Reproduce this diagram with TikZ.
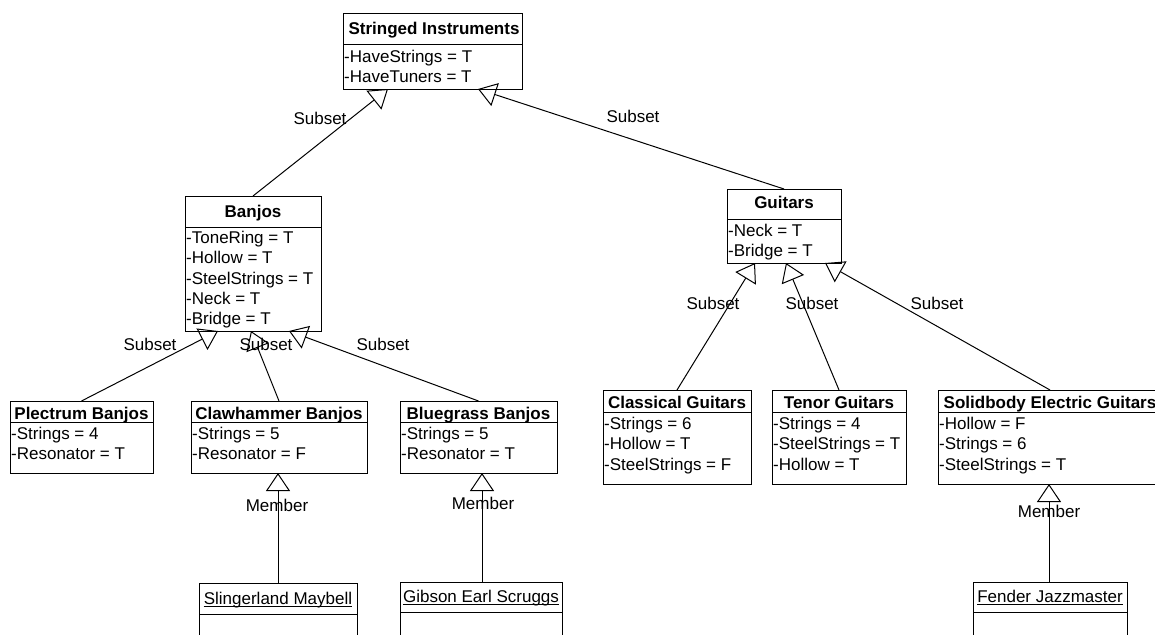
\documentclass[tikz,border=0pt]{standalone}
\usepackage{fontspec}
\setmainfont{Liberation Sans}
\usetikzlibrary{arrows.meta}
% name, left, top, right, bottom, divider
\newcommand{\umlbox}[6]{%
  \node[box, minimum width={#4-#2}, minimum height={#5-#3}] (#1) at ({(#2+#4)/2},{(#3+#5)/2}) {};
  \draw[line width=1pt] (#1.west |- 0,#6) -- (#1.east |- 0,#6);
}
\begin{document}
\begin{tikzpicture}[x=1pt,y=-1pt,
  box/.style={draw, line width=1pt, inner sep=0pt, outer sep=0pt},
  ttl/.style={font=\fontsize{17}{20.3}\selectfont\bfseries, inner sep=0pt, anchor=base},
  attr/.style={font=\fontsize{17}{20.3}\selectfont, inner sep=0pt, anchor=north west, align=left},
  lbl/.style={font=\fontsize{17}{20.3}\selectfont, inner sep=0pt},
  inst/.style={font=\fontsize{17}{20.3}\selectfont, inner sep=0pt, anchor=base},
  gen/.style={draw, line width=1pt, -{Triangle[open, length=18pt, width=24pt]}},
]
\useasboundingbox (0,0) rectangle (1155,634);
\fill[white] (0,0) rectangle (1155,634);

% ---- boxes ----
\umlbox{si}{343}{14}{522}{89}{45}
\node[ttl] (si-t) at (434,35) {Stringed Instruments};
\node[attr] (si-a) at (344,50) {-HaveStrings = T\\-HaveTuners = T};

\umlbox{banjos}{185}{196}{321}{331}{227}
\node[ttl] (banjos-t) at (253,217) {Banjos};
\node[attr] (banjos-a) at (186,231) {-ToneRing = T\\-Hollow = T\\-SteelStrings = T\\-Neck = T\\-Bridge = T};

\umlbox{guitars}{727}{189}{841}{263}{219}
\node[ttl] (guitars-t) at (784,208) {Guitars};
\node[attr] (guitars-a) at (728,224) {-Neck = T\\-Bridge = T};

\umlbox{plectrum}{10}{401}{153}{473}{422}
\node[ttl] (plectrum-t) at (81.5,419) {Plectrum Banjos};
\node[attr] (plectrum-a) at (11,427) {-Strings = 4\\-Resonator = T};

\umlbox{claw}{191}{401}{367}{473}{422}
\node[ttl] (claw-t) at (279,419) {Clawhammer Banjos};
\node[attr] (claw-a) at (192,427) {-Strings = 5\\-Resonator = F};

\umlbox{blue}{400}{401}{557}{473}{422}
\node[ttl] (blue-t) at (478.5,419) {Bluegrass Banjos};
\node[attr] (blue-a) at (401,427) {-Strings = 5\\-Resonator = T};

\umlbox{classical}{603}{390}{751}{484}{412}
\node[ttl] (classical-t) at (677,408) {Classical Guitars};
\node[attr] (classical-a) at (604,417) {-Strings = 6\\-Hollow = T\\-SteelStrings = F};

\umlbox{tenor}{772}{390}{906}{484}{412}
\node[ttl] (tenor-t) at (839,408) {Tenor Guitars};
\node[attr] (tenor-a) at (773,417) {-Strings = 4\\-SteelStrings = T\\-Hollow = T};

\umlbox{solid}{938}{390}{1162}{484}{412}
\node[ttl] (solid-t) at (1050,408) {Solidbody Electric Guitars};
\node[attr] (solid-a) at (939,417) {-Hollow = F\\-Strings = 6\\-SteelStrings = T};

\umlbox{sling}{199}{583}{357}{660}{614}
\node[inst] (sling-t) at (278,604) {Slingerland Maybell};
\draw[line width=1pt] ([yshift=-2pt]sling-t.base west) -- ([yshift=-2pt]sling-t.base east);

\umlbox{gibson}{400}{582}{562}{660}{612}
\node[inst] (gibson-t) at (481,602) {Gibson Earl Scruggs};
\draw[line width=1pt] ([yshift=-2pt]gibson-t.base west) -- ([yshift=-2pt]gibson-t.base east);

\umlbox{fender}{973}{582}{1127}{660}{612}
\node[inst] (fender-t) at (1050,602) {Fender Jazzmaster};
\draw[line width=1pt] ([yshift=-2pt]fender-t.base west) -- ([yshift=-2pt]fender-t.base east);

% ---- arrow tips on parents ----
\coordinate (si-p1) at (388,89);
\coordinate (si-p2) at (478,89);
\coordinate (banjos-p1) at (218,331);
\coordinate (banjos-p2) at (251,331);
\coordinate (banjos-p3) at (289,331);
\coordinate (guitars-p1) at (755,263);
\coordinate (guitars-p2) at (786,263);
\coordinate (guitars-p3) at (825,263);

% ---- connectors ----
\draw[gen] (banjos.north) -- (si-p1);
\draw[gen] (guitars.north) -- (si-p2);
\draw[gen] (plectrum.north) -- (banjos-p1);
\draw[gen] (claw.north) -- (banjos-p2);
\draw[gen] (blue.north) -- (banjos-p3);
\draw[gen] (classical.north) -- (guitars-p1);
\draw[gen] (tenor.north) -- (guitars-p2);
\draw[gen] (solid.north) -- (guitars-p3);
\draw[gen] (sling.north) -- (sling.north |- claw.south);
\draw[gen] ([xshift=1pt]gibson.north) -- ([xshift=1pt]gibson.north |- blue.south);
\draw[gen] ([xshift=-1pt]fender.north) -- ([xshift=-1pt]fender.north |- solid.south);

% ---- labels ----
\node[lbl] (l1) at (320,118) {Subset};
\node[lbl] (l2) at (633,116) {Subset};
\node[lbl] (l3) at (150,344) {Subset};
\node[lbl] (l4) at (266,344) {Subset};
\node[lbl] (l5) at (383,344) {Subset};
\node[lbl] (l6) at (713,303) {Subset};
\node[lbl] (l7) at (812,303) {Subset};
\node[lbl] (l8) at (937,303) {Subset};
\node[lbl] (m1) at (277,505) {Member};
\node[lbl] (m2) at (483,503) {Member};
\node[lbl] (m3) at (1049,511) {Member};
\end{tikzpicture}
\end{document}
